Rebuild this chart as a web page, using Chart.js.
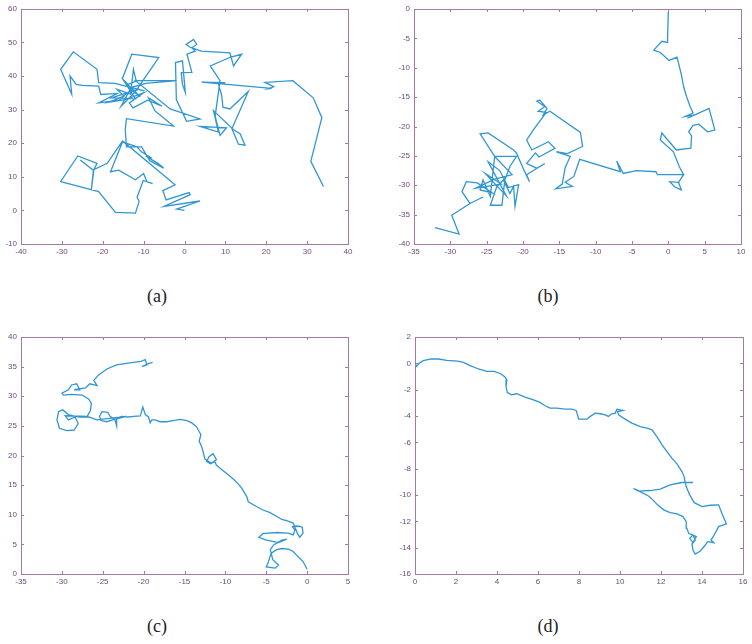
<!DOCTYPE html>
<html>
<head>
<meta charset="utf-8">
<script src="https://cdn.jsdelivr.net/npm/chart.js@4.4.1/dist/chart.umd.min.js"></script>
<style>
  html, body { margin: 0; padding: 0; background: #ffffff; }
  body { width: 752px; height: 644px; position: relative; overflow: hidden; }
  canvas { position: absolute; }
  .cap { position: absolute; font-family: "Liberation Serif", "DejaVu Serif", serif; font-size: 18px; color: #222; transform: translateX(-50%); }
</style>
</head>
<body>
<canvas id="ca" width="360" height="262" style="left:0px;top:0px;"></canvas>
<canvas id="cb" width="372" height="262" style="left:380px;top:0px;"></canvas>
<canvas id="cc" width="360" height="270" style="left:0px;top:320px;"></canvas>
<canvas id="cd" width="372" height="270" style="left:380px;top:320px;"></canvas>
<div class="cap" style="left:157px;top:286px;">(a)</div>
<div class="cap" style="left:548px;top:286px;">(b)</div>
<div class="cap" style="left:157px;top:616px;">(c)</div>
<div class="cap" style="left:548px;top:616px;">(d)</div>
<script>
// ---- data: trajectories, [x, y] ----
const pathA = [
[0,0],[-1.9,0.4],[3.8,2.8],[-5,1.2],[1.4,4.7],[1.1,5.3],[-4.5,3.1],[-5.3,5.9],[-2.3,7.6],
[-15.1,20.6],[-18.1,11.5],[-16.1,12.0],[-12,9.1],[-10,11],[-9.2,8.5],[-7.8,8.0],[-10.1,8.9],[-11.6,3.9],[-11.1,2.7],[-12,-0.8],[-16.9,-0.6],[-21,5.6],[-30.3,8.6],[-26.1,16.2],[-21.4,14.0],[-22.3,11.8],[-22.8,6.0],[-22.2,11.9],[-25.5,15],[-22.4,12.0],[-18.9,14],[-15.3,20.4],
[-11.6,18.9],[-10.6,17.5],[-8,15.5],[-9.5,16.2],[-6.5,14],[-5.1,12.6],[-8.5,14.8],[-10.5,18.9],[-14.2,18.9],[-14.5,24],[-14.2,27.3],[-2.7,25.1],[-7.2,29.6],[-8.8,33.5],[-5.5,31],[-9,32.8],[-12.6,30.5],[-13.5,32],[-10,35],[-14.5,33],[-18.5,32.2],[-14.8,34],[-16.5,36],[-13.2,34.6],[-12.5,42],[-11.8,38.5],[-13.8,37.5],[-15.2,39.2],[-12.9,46.5],[-6.3,45.5],[-11.6,36.1],[-9.8,35.6],[-17,37.8],[-21,38],[-21.4,42],[-27.2,47.2],[-30.3,42],[-27.6,34.6],[-28,40],[-26.5,37.5],[-25,37.2],[-21,37],[-20.5,34.5],[-16.5,34.8],[-21,32],[-16,32.8],[-13.5,35.5],[-15.5,31],[-11.5,36],[-17.8,33.5],[-12,33.2],[-14.8,38.5],[-10.8,33.8],[-13.6,36.4],[-9.5,37.8],[-1.9,38.6],[-12,38.6],[-3.5,30.2],[3.8,27.2],[0.5,26.5],[-2,33],[-2.2,44],[-0.5,44.5],[0.2,35.1],[-0.5,37.5],[-0.8,41],[1.8,41.1],[0.6,46.5],[2.6,47.4],[1.8,48.4],[3,49.4],[2.2,50.9],[0.4,49.4],[1.5,48.5],[4.1,47.4],[11.1,46.9],[12,43],[14,46.5],[11,45.5],[6.3,43],[8.7,38.6],[8.3,37.6],[9.1,34.2],[9.4,30.7],[11.1,30.2],[15.6,35.4],[11.6,24.3],[13.2,19.7],[14.8,19.4],[13.6,22.8],[12,24],[7.1,29.7],[8.3,23.3],[3.8,25],[10.3,24.6],[8.7,22.3],[7.5,28],[8.6,37.8],[10,38],[4.2,38.2],[21.3,36.3],[20.5,36.2],[21.8,36.8],[19.7,38.1],[26.5,38.6],[31.5,33.5],[33.6,27.6],[30.9,14.6],[34,7.1]
];
const pathB = [
[0,-0.5],[-0.1,-4.7],[-0.1,-5.7],[-0.9,-5.5],[-2.0,-7.0],[-1.1,-7.4],[0.1,-8.75],[1.2,-8.2],[1.8,-11.2],[2.1,-13.2],[2.5,-14.9],[3.0,-16.6],[3.4,-17.7],[2.3,-18.3],[3.7,-18.0],[2.6,-18.6],[5.6,-16.9],[6.4,-20.6],[5.4,-20.9],[4.2,-19.6],[3.4,-19.8],[2.8,-20.9],[3.2,-21.6],[3.1,-23.7],[1.1,-24.0],[-0.9,-21.1],[-1.1,-22.3],[0.7,-24.3],[1.5,-26.8],[2.1,-28.2],[1.4,-29.5],[0.2,-29.4],[0.9,-30.3],[1.8,-30.8],[1.4,-29.5],[2.1,-28.2],[0.5,-28.2],[-1.5,-28.2],[-1.7,-27.7],[-4.4,-27.5],[-6.2,-28.0],[-7.1,-25.9],[-6.6,-27.7],[-12.2,-25.6],[-13.0,-28.5],[-14.2,-29.5],[-13.2,-30.2],[-15.5,-30.6],[-14.6,-29.8],[-14.2,-27.0],[-13.5,-25.1],[-15.4,-24.3],[-13.9,-24.6],[-11.8,-23.4],[-12.1,-21.0],[-16.3,-17.4],[-17.2,-18.0],[-16.7,-16.9],[-17.7,-15.5],[-18.1,-15.7],[-17.0,-16.6],[-17.9,-17.4],[-16.8,-17.6],[-18.6,-20.6],[-19.5,-22.3],[-18.8,-24.0],[-16.5,-22.6],[-15.6,-23.7],[-17.8,-25.2],[-18.3,-24.5],[-19.5,-26.3],[-18.1,-27.1],[-17.0,-26.3],[-19.5,-28.2],[-19.1,-29.4],[-19.8,-27.6],[-20.9,-24.5],[-21.3,-24.0],[-24.8,-21.1],[-25.9,-21.25],[-23.9,-25.1],[-22.9,-25.1],[-20.9,-25.1],[-21.8,-26.8],[-22.5,-29.1],[-22.9,-33.4],[-24.5,-33.4],[-23.6,-30.2],[-22.7,-29.1],[-21.8,-31.4],[-21.3,-30.2],[-21.1,-33.6],[-20.6,-29.9],[-22.0,-30.4],[-23.2,-27.5],[-24.8,-26.0],[-22.3,-31.8],[-25.2,-28.0],[-23.0,-29.8],[-26.5,-30.5],[-24.0,-29.0],[-21.5,-28.2],[-23.9,-25.1],[-24.5,-31.9],[-25.5,-29.1],[-25.9,-30.8],[-24.2,-31.3],[-26.3,-29.6],[-27.8,-29.4],[-28.4,-31.1],[-27.3,-33.1],[-25.5,-32.0],[-27.3,-33.1],[-29.8,-35.1],[-28.8,-38.3],[-32.1,-37.2]
];
const pathC = [
[0,0.8],[-0.5,2.1],[-1.1,2.9],[-1.7,3.8],[-2.3,4.2],[-3.1,4.3],[-3.7,4.1],[-4.4,3.5],[-4.8,1.8],[-5.0,1.2],[-3.9,1.0],[-3.5,1.5],[-4.2,2.4],[-4.5,4.1],[-4.1,4.9],[-3.1,5.7],[-2.5,5.9],[-3.5,5.3],[-5.0,5.7],[-5.9,6.2],[-5.4,6.8],[-3.7,7.0],[-2.3,6.9],[-1.7,6.6],[-1.5,7.4],[-1.8,8.0],[-1.1,8.1],[-0.6,7.9],[-0.5,6.9],[-0.9,6.2],[-1.2,6.9],[-1.7,8.6],[-2.5,9.0],[-3.1,9.2],[-3.7,9.7],[-4.6,10.4],[-5.4,10.8],[-6.2,11.4],[-7.2,12.2],[-7.4,13.1],[-8.0,14.5],[-8.5,15.3],[-9.0,16.0],[-9.8,16.9],[-10.5,17.7],[-11.1,18.4],[-11.3,19.0],[-11.8,18.6],[-12.3,19.0],[-12.0,19.8],[-11.5,20.3],[-11.1,19.3],[-11.7,18.7],[-12.5,19.4],[-12.7,20.5],[-12.9,21.5],[-13.2,22.4],[-13.0,23.5],[-13.5,24.8],[-14.1,25.5],[-14.7,25.9],[-15.5,26.1],[-16.4,25.9],[-17.2,25.7],[-18.0,25.7],[-18.6,26.0],[-19.0,26.0],[-19.2,25.5],[-19.4,26.5],[-19.8,26.9],[-20.1,28.2],[-20.4,26.7],[-21.2,26.6],[-21.9,26.5],[-22.7,26.6],[-23.3,26.3],[-23.3,25.0],[-23.5,26.0],[-24.1,26.6],[-24.4,27.3],[-25.1,27.4],[-25.4,26.6],[-25.2,25.9],[-24.5,25.7],[-23.8,26.0],[-22.1,26.6],[-25.7,26.0],[-26.7,26.5],[-27.8,26.5],[-28.4,26.6],[-29.2,26.9],[-29.9,27.7],[-30.4,27.4],[-30.6,26.0],[-30.3,24.6],[-29.4,24.2],[-28.5,24.3],[-28.0,25.4],[-28.4,26.5],[-29.2,26.0],[-29.6,26.7],[-26.9,26.6],[-26.5,27.6],[-26.4,28.8],[-26.7,29.5],[-27.5,30.2],[-28.8,30.3],[-29.8,30.2],[-30.0,30.5],[-29.2,31.1],[-28.8,31.9],[-28.2,32.1],[-27.8,31.1],[-28.5,31.1],[-27.1,31.4],[-26.6,32.1],[-25.7,31.8],[-26.1,32.7],[-25.5,33.6],[-24.5,34.6],[-23.3,35.3],[-21.9,35.6],[-20.8,35.8],[-20.3,35.9],[-19.8,36.2],[-19.6,35.3],[-20.2,35.0],[-19.4,35.5],[-18.9,35.7]
];
const pathD = [
[0,0],[0.08,-0.23],[0.2,0.0],[0.4,0.2],[0.8,0.33],[1.14,0.33],[1.55,0.23],[2.07,0.17],[2.36,0.07],[2.69,-0.18],[3.1,-0.43],[3.5,-0.61],[3.86,-0.61],[4.18,-0.79],[4.39,-1.04],[4.48,-1.25],[4.44,-1.75],[4.5,-2.2],[4.7,-2.39],[4.96,-2.31],[5.37,-2.56],[5.78,-2.77],[6.1,-2.97],[6.35,-3.22],[6.59,-3.4],[6.92,-3.4],[7.32,-3.48],[7.65,-3.48],[7.86,-3.58],[7.93,-3.91],[7.98,-4.24],[8.38,-4.24],[8.55,-4.03],[8.79,-3.78],[9.03,-3.83],[9.28,-3.91],[9.44,-4.03],[9.6,-3.83],[9.77,-3.78],[9.85,-3.48],[10.14,-3.58],[9.88,-3.66],[9.93,-3.91],[10.17,-4.16],[10.58,-4.54],[10.99,-4.8],[11.31,-4.92],[11.56,-5.05],[11.8,-5.56],[12.05,-6.19],[12.29,-6.7],[12.53,-7.2],[12.78,-7.64],[13.02,-8.22],[13.13,-8.6],[13.18,-9.06],[13.23,-9.36],[13.4,-9.99],[13.62,-10.58],[14.0,-10.88],[14.4,-10.78],[14.81,-10.75],[14.97,-11.39],[15.19,-12.2],[14.81,-12.4],[14.57,-13.11],[14.44,-13.42],[14.57,-13.62],[14.27,-13.54],[14.16,-13.8],[13.92,-14.25],[13.67,-14.48],[13.56,-14.18],[13.51,-13.72],[13.67,-13.42],[13.56,-13.04],[13.4,-13.29],[13.56,-13.62],[13.72,-13.16],[13.35,-12.91],[13.26,-12.53],[13.23,-12.02],[13.07,-11.64],[12.78,-11.44],[12.45,-11.34],[12.13,-11.13],[11.83,-10.75],[11.6,-10.37],[11.39,-10.07],[11.07,-9.82],[10.82,-9.61],[10.66,-9.51],[10.9,-9.71],[11.47,-9.66],[11.96,-9.56],[12.45,-9.23],[13.02,-9.05],[13.56,-9.05]
];

// axis ranges and tick steps: [min, max, step]
const xAxisA = [-40, 40, 10], yAxisA = [-10, 60, 10];
const xAxisB = [-35, 10, 5],  yAxisB = [-40, 0, 5];
const xAxisC = [-35, 5, 5],   yAxisC = [0, 40, 5];
const xAxisD = [0, 16, 2],    yAxisD = [-16, 2, 2];

// ---- styling ----
const LINE = '#3196d3';
const FRAME = '#a27aa2';
const TICKTXT = '#6e4a78';

const framePlugin = {
  id: 'frame',
  afterDraw(chart) {
    const ctx = chart.ctx, a = chart.chartArea;
    const xs = chart.scales.x, ys = chart.scales.y;
    ctx.save();
    ctx.strokeStyle = FRAME;
    ctx.lineWidth = 1;
    ctx.strokeRect(Math.round(a.left) + 0.5, Math.round(a.top) + 0.5,
                   Math.round(a.right - a.left), Math.round(a.bottom - a.top));
    const tl = 3;
    ctx.beginPath();
    xs.ticks.forEach(t => {
      const px = Math.round(xs.getPixelForValue(t.value)) + 0.5;
      ctx.moveTo(px, a.bottom); ctx.lineTo(px, a.bottom - tl);
      ctx.moveTo(px, a.top); ctx.lineTo(px, a.top + tl);
    });
    ys.ticks.forEach(t => {
      const py = Math.round(ys.getPixelForValue(t.value)) + 0.5;
      ctx.moveTo(a.left, py); ctx.lineTo(a.left + tl, py);
      ctx.moveTo(a.right, py); ctx.lineTo(a.right - tl, py);
    });
    ctx.stroke();
    ctx.restore();
  }
};

function makeChart(id, path, xr, yr, box) {
  const pts = path.map(p => ({x: p[0], y: p[1]}));
  return new Chart(document.getElementById(id), {
    type: 'scatter',
    data: { datasets: [{ data: pts, showLine: true, borderColor: LINE, borderWidth: 1.3,
                         pointRadius: 0, tension: 0, fill: false }] },
    options: {
      responsive: false, animation: false, devicePixelRatio: 1,
      layout: { padding: { left: 0, top: box.top, right: box.right, bottom: 0 } },
      plugins: { legend: { display: false }, tooltip: { enabled: false } },
      scales: {
        x: {
          type: 'linear', min: xr[0], max: xr[1],
          ticks: { stepSize: xr[2], color: TICKTXT, font: { family: 'Liberation Sans', size: 8 }, padding: 3, maxRotation: 0, autoSkip: false },
          grid: { display: false, drawTicks: false }, border: { display: false },
          afterFit(s) { s.height = box.xh; }
        },
        y: {
          type: 'linear', min: yr[0], max: yr[1],
          ticks: { stepSize: yr[2], color: TICKTXT, font: { family: 'Liberation Sans', size: 8 }, padding: 4, autoSkip: false },
          grid: { display: false, drawTicks: false }, border: { display: false },
          afterFit(s) { s.width = box.yw; }
        }
      }
    },
    plugins: [framePlugin]
  });
}

makeChart('ca', pathA, xAxisA, yAxisA, { top: 7, right: 12, xh: 18, yw: 21 });
makeChart('cb', pathB, xAxisB, yAxisB, { top: 9, right: 11, xh: 18, yw: 34 });
makeChart('cc', pathC, xAxisC, yAxisC, { top: 17, right: 12, xh: 16, yw: 21 });
makeChart('cd', pathD, xAxisD, yAxisD, { top: 17, right: 9, xh: 16, yw: 35 });
</script>
</body>
</html>
